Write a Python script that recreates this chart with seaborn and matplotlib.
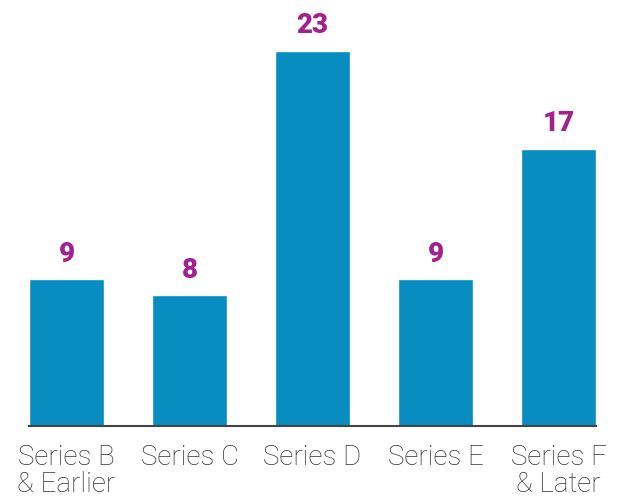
import matplotlib
matplotlib.use("Agg")
import matplotlib.pyplot as plt
import seaborn as sns
import pandas as pd

categories = ["Series B\n& Earlier", "Series C", "Series D", "Series E", "Series F\n& Later"]
values = [9, 8, 23, 9, 17]

BAR_COLOR = "#078dbf"
LABEL_COLOR = "#a3208f"
TEXT_COLOR = "#333333"

sns.set_theme(style="white")
plt.rcParams["font.family"] = ["Roboto", "DejaVu Sans"]

df = pd.DataFrame({"stage": categories, "deals": values})

fig = plt.figure(figsize=(6.2, 5.04), dpi=100)
ax = fig.add_axes([0.0468, 0.1548, 0.9145, 0.8452])

sns.barplot(data=df, x="stage", y="deals", color=BAR_COLOR, width=0.61,
            saturation=1, ax=ax)

ax.set_xlim(-0.305, len(categories) - 1 + 0.305)
ax.set_ylim(0, 26.1)

for i, v in enumerate(values):
    ax.annotate(str(v), xy=(i, v), xytext=(0, 8), textcoords="offset points",
                ha="center", va="bottom", fontsize=20, fontweight="heavy",
                color=LABEL_COLOR)

for side in ["top", "right", "left"]:
    ax.spines[side].set_visible(False)
ax.spines["bottom"].set_color("#444444")
ax.spines["bottom"].set_linewidth(1.5)

ax.set_yticks([])
ax.set_xlabel("")
ax.set_ylabel("")
ax.tick_params(axis="x", length=0, pad=13, labelsize=20, labelcolor=TEXT_COLOR)
for lbl in ax.get_xticklabels():
    lbl.set_fontweight("light")
    lbl.set_linespacing(1.02)

fig.savefig("out.png", dpi=100)
